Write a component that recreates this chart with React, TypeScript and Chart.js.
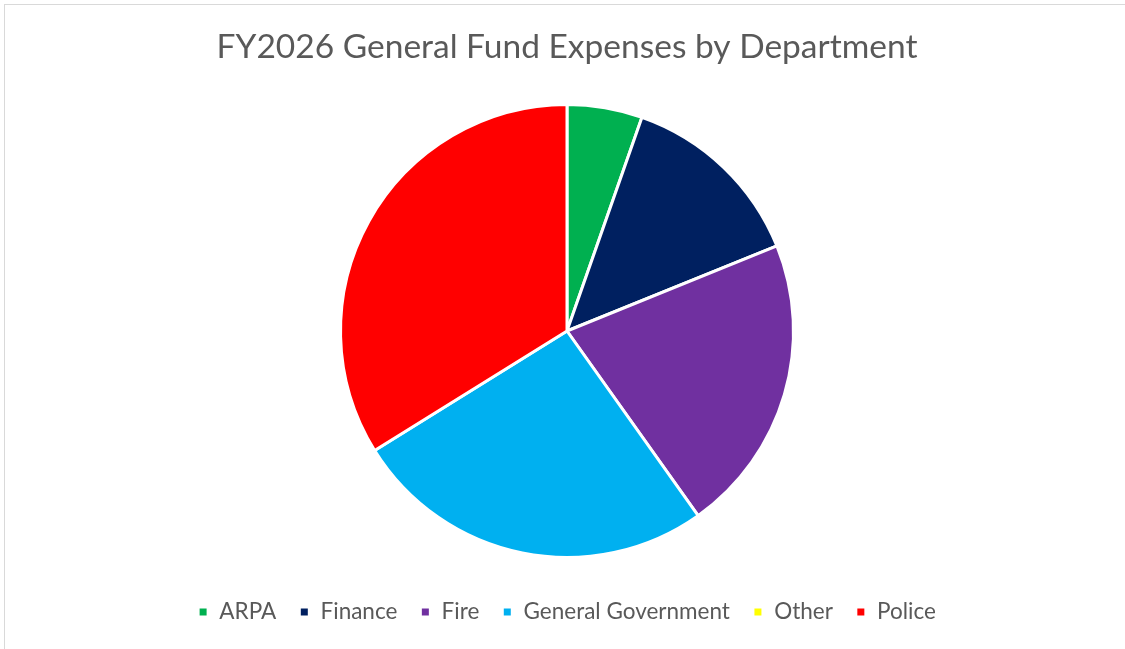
import React, { useEffect, useRef } from "react";
import { Chart, registerables } from "chart.js";

Chart.register(...registerables);

const categories = ["ARPA", "Finance", "Fire", "General Government", "Other", "Police"];
const shares = [5.37, 13.5, 21.3, 25.97, 0, 33.85];
const colors = ["#00B050", "#002060", "#7030A0", "#00B0F0", "#FFFF00", "#FF0000"];
const titleText = "FY2026 General Fund Expenses by Department";

export default function App() {
  const ref = useRef<HTMLCanvasElement | null>(null);

  useEffect(() => {
    document.body.style.margin = "0";
    document.body.style.overflow = "hidden";
    const canvas = ref.current;
    if (!canvas) return;
    const chart = new Chart(canvas, {
      type: "pie",
      data: {
        labels: categories,
        datasets: [
          {
            data: shares,
            backgroundColor: colors,
            borderColor: "#FFFFFF",
            borderWidth: 3,
          },
        ],
      },
      options: {
        responsive: false,
        animation: false,
        layout: { padding: { left: 9, right: 0, top: 0, bottom: 15.75 } },
        plugins: {
          title: {
            display: true,
            text: titleText,
            color: "#595959",
            font: { family: "Lato", size: 33.5, weight: "normal", lineHeight: 1.2 },
            padding: { top: 27.6, bottom: 35.2 },
          },
          legend: {
            position: "bottom",
            title: {
              display: true,
              text: " ",
              font: { family: "Lato", size: 10, lineHeight: 1.875 },
              padding: 0,
            },
            labels: {
              color: "#595959",
              font: { family: "Lato", size: 22.5 },
              boxWidth: 10,
              boxHeight: 10,
              padding: 23,
            },
          },
          tooltip: { enabled: false },
        },
      },
    });
    return () => chart.destroy();
  }, []);

  return (
    <div style={{ position: "relative", width: 1125, height: 649, overflow: "hidden", background: "#fff" }}>
      <div
        style={{
          position: "absolute",
          left: 4,
          top: 4,
          width: 1140,
          height: 660,
          border: "1px solid #D9D9D9",
          boxSizing: "border-box",
        }}
      />
      <canvas ref={ref} width={1125} height={649} style={{ position: "absolute", left: 0, top: 0 }} />
    </div>
  );
}
